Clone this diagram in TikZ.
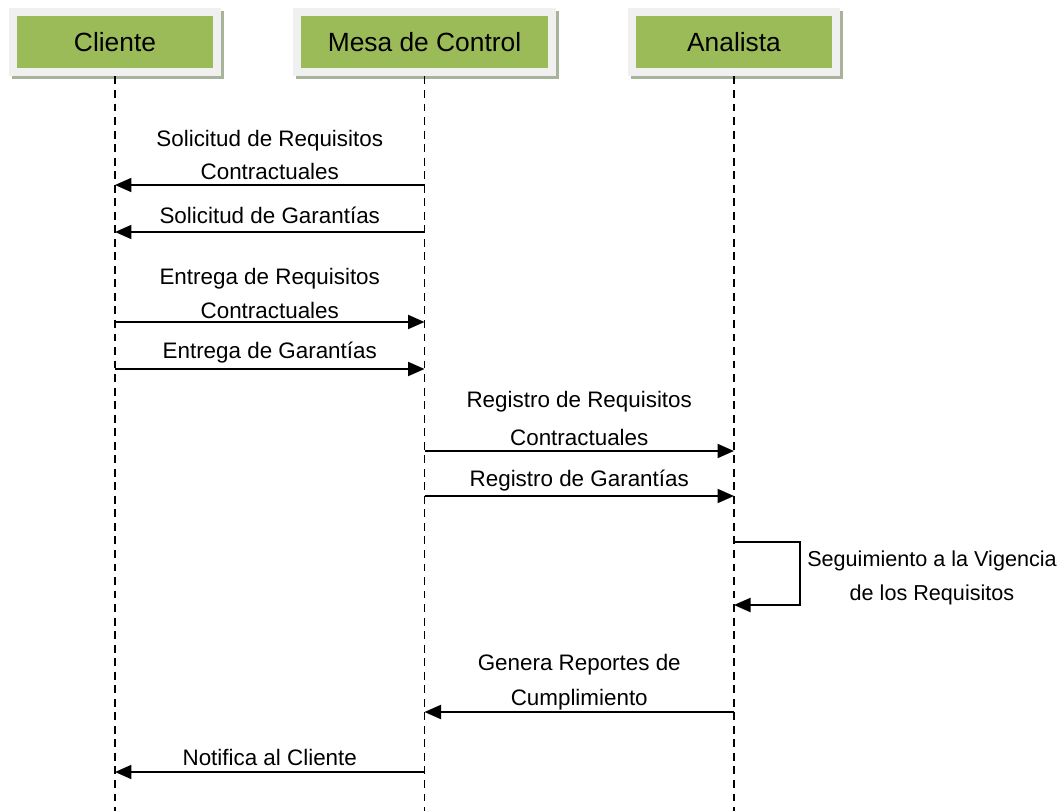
\documentclass[tikz,border=0pt]{standalone}
\usepackage{fontspec}
\setmainfont{Liberation Sans}
\usepackage{tikz}
\usetikzlibrary{arrows.meta,positioning,calc,backgrounds}
\definecolor{hdrGreen}{HTML}{9BBB59}
\definecolor{hdrFrame}{HTML}{F0F0F0}
\definecolor{hdrShadow}{HTML}{A9B39B}

\begin{document}
\begin{tikzpicture}[x=0.02cm, y=-0.02cm,
  hdr/.style={fill=hdrGreen, draw=hdrFrame, line width=0.16cm, minimum height=1.22cm,
              font=\fontsize{15}{18}\selectfont},
  life/.style={line width=0.9pt, dash pattern=on 4.5pt off 3.2pt},
  msg/.style={line width=1.15pt, -{Triangle[length=0.33cm, width=0.28cm]}},
  lbl/.style={align=center, inner sep=0pt, font=\fontsize{12.75}{19.3}\selectfont}]
  \useasboundingbox (0,0) rectangle (1059,811);
  % participants
  \node[hdr, minimum width=4.08cm] (cli) at (115,42) {Cliente};
  \node[hdr, minimum width=5.12cm] (mesa) at (424.5,42) {Mesa de Control};
  \node[hdr, minimum width=4.1cm] (ana) at (734,42) {Analista};
  \begin{scope}[on background layer]
    \foreach \p in {cli,mesa,ana} {
      \fill[hdrShadow] ([shift={(3,3)}]\p.north west) rectangle ([shift={(3,3)}]\p.south east);
    }
  \end{scope}
  % lifelines
  \foreach \p in {cli,mesa,ana} {
    \coordinate (\p-end) at (\p |- 0,811);
    \draw[life] (\p.south) -- (\p-end);
  }
  % messages
  \foreach \src/\dst/\y/\ly/\txt [count=\i] in {
      mesa/cli/185/155/{Solicitud de Requisitos\\Contractuales},
      mesa/cli/232/215/{Solicitud de Garant\'ias},
      cli/mesa/322/293.5/{Entrega de Requisitos\\Contractuales},
      cli/mesa/369/353/{Entrega de Garant\'ias},
      mesa/ana/451/418.5/{Registro de Requisitos\\[0.1cm]Contractuales},
      mesa/ana/496/481/{Registro de Garant\'ias},
      ana/mesa/712/682.5/{Genera Reportes de\\[0.02cm]Cumplimiento},
      mesa/cli/772/757/{Notifica al Cliente}} {
    \draw[msg] (\src |- 0,\y) -- (\dst |- 0,\y);
    \path (\src |- 0,\ly) -- (\dst |- 0,\ly) node[lbl, midway] (m\i) {\txt};
  }
  % self call
  \coordinate (loopA) at (800,542);
  \coordinate (loopB) at (800,605);
  \draw[msg] (ana |- loopA) -- (loopA) -- (loopB) -- (ana |- loopB);
  \node[lbl, font=\fontsize{12.3}{19}\selectfont] (self) at (932,578) {Seguimiento a la Vigencia\\de los Requisitos};
\end{tikzpicture}
\end{document}
